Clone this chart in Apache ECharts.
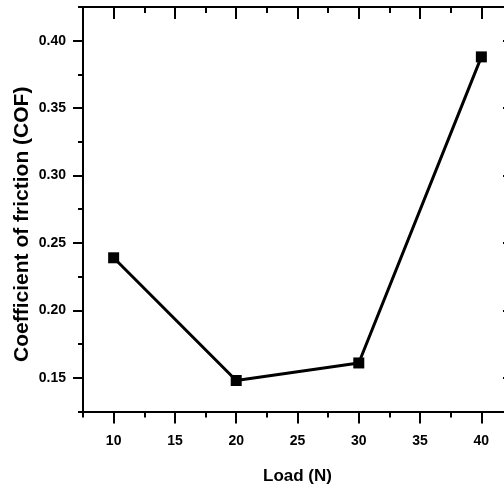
<!DOCTYPE html>
<html>
<head>
<meta charset="utf-8">
<script src="https://cdn.jsdelivr.net/npm/echarts@6/dist/echarts.min.js"></script>
<style>
  html, body { margin: 0; padding: 0; background: #fff; }
  #chart { width: 504px; height: 492px; }
</style>
</head>
<body>
<div id="chart"></div>
<script>
// data
const loads = [10, 20, 30, 40]
const cof = [0.239, 0.148, 0.161, 0.388]

// tick values
const xMajor = [10, 15, 20, 25, 30, 35, 40]
const xMinor = [7.5, 12.5, 17.5, 22.5, 27.5, 32.5, 37.5, 42.5]
const yMajor = [0.15, 0.20, 0.25, 0.30, 0.35, 0.40]
const yMinor = [0.125, 0.175, 0.225, 0.275, 0.325, 0.375, 0.425]

const font = 'Liberation Sans, Arial, sans-serif'
const line = { show: true, lineStyle: { color: '#000', width: 2 } }

// one axis per tick set, stacked on the same side
const makeX = (position, ticks, len, inside, labels, extra) => Object.assign({
  type: 'value',
  position: position,
  min: 7.5,
  max: 42.5,
  axisLine: labels || position === 'top' ? line : { show: false },
  axisTick: { show: true, customValues: ticks, length: len, inside: inside, lineStyle: { color: '#000', width: 2 } },
  axisLabel: labels ? {
    show: true, customValues: xMajor, margin: 23,
    color: '#000', fontFamily: font, fontWeight: 'bold', fontSize: 14
  } : { show: false },
  splitLine: { show: false }
}, extra || {})

const makeY = (position, ticks, len, inside, labels, extra) => Object.assign({
  type: 'value',
  position: position,
  min: 0.125,
  max: 0.425,
  axisLine: labels || position === 'right' ? line : { show: false },
  axisTick: { show: true, customValues: ticks, length: len, inside: inside, lineStyle: { color: '#000', width: 2 } },
  axisLabel: labels ? {
    show: true, customValues: yMajor, margin: 17,
    formatter: v => v.toFixed(2),
    color: '#000', fontFamily: font, fontWeight: 'bold', fontSize: 14
  } : { show: false },
  splitLine: { show: false }
}, extra || {})

const chart = echarts.init(document.getElementById('chart'))

chart.setOption({
  animation: false,
  backgroundColor: '#fff',
  grid: { left: 83, top: 7, right: -8, bottom: 80.5, containLabel: false, outerBoundsMode: 'none' },
  xAxis: [
    makeX('bottom', xMajor, 12, false, true, {
      name: 'Load (N)',
      nameLocation: 'middle',
      nameGap: 56,
      nameMoveOverlap: false,
      nameTextStyle: { color: '#000', fontFamily: font, fontWeight: 'bold', fontSize: 17 }
    }),
    makeX('bottom', xMinor, 6, false, false),
    makeX('top', xMajor, 12, true, false),
    makeX('top', xMinor, 6, true, false)
  ],
  yAxis: [
    makeY('left', yMajor, 10, false, true, {
      name: 'Coefficient of friction (COF)',
      nameLocation: 'middle',
      nameGap: 50,
      nameMoveOverlap: false,
      nameTextStyle: { color: '#000', fontFamily: font, fontWeight: 'bold', fontSize: 21, padding: [0, 30, 0, 0] }
    }),
    makeY('left', yMinor, 5, false, false),
    makeY('right', yMajor, 9, true, false)
  ],
  series: [{
    type: 'line',
    xAxisIndex: 0,
    yAxisIndex: 0,
    data: loads.map((x, i) => [x, cof[i]]),
    symbol: 'rect',
    symbolSize: 11,
    lineStyle: { color: '#000', width: 3 },
    itemStyle: { color: '#000' }
  }]
})
</script>
</body>
</html>
